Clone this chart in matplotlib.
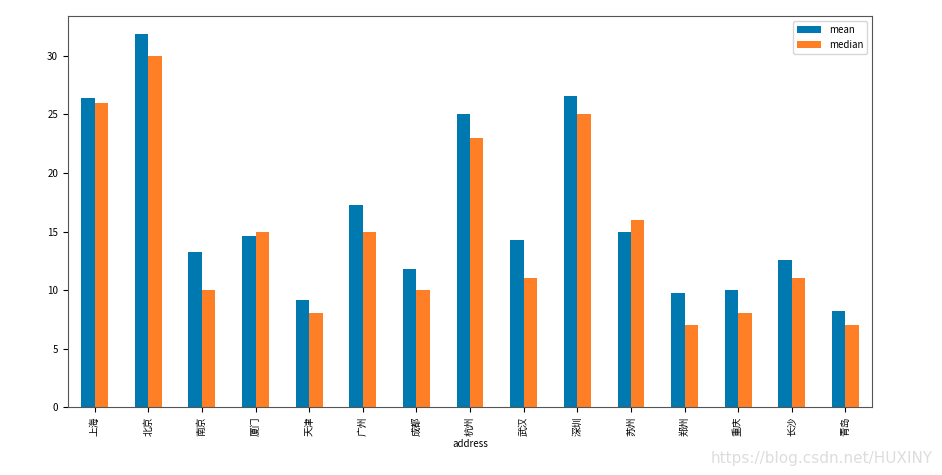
import matplotlib
matplotlib.use("Agg")
import matplotlib.pyplot as plt
import numpy as np

plt.rcParams['font.family'] = ['Noto Sans CJK SC', 'DejaVu Sans']

cities = ['上海', '北京', '南京', '厦门', '天津', '广州', '成都', '杭州',
          '武汉', '深圳', '苏州', '郑州', '重庆', '长沙', '青岛']
mean = [26.4, 31.9, 13.25, 14.6, 9.15, 17.25, 11.8, 25.0,
        14.3, 26.6, 14.95, 9.75, 10.0, 12.55, 8.2]
median = [26, 30, 10, 15, 8, 15, 10, 23, 11, 25, 16, 7, 8, 11, 7]

fig = plt.figure(figsize=(9.42, 4.75), dpi=100)
ax = fig.add_axes([0.072, 0.143, 0.854, 0.823])
x = np.arange(len(cities))
w = 0.25
ax.bar(x - w/2, mean, w, color='#0078b0', label='mean')
ax.bar(x + w/2, median, w, color='#ff7f27', label='median')
ax.set_xlim(-0.5, len(cities) - 0.5)
ax.set_ylim(0, 33.4)
ax.set_xticks(x)
ax.set_xticklabels(cities, rotation=90, fontsize=7)
ax.set_yticks([0, 5, 10, 15, 20, 25, 30])
ax.tick_params(axis='y', labelsize=7)
ax.set_xlabel('address', fontsize=7, labelpad=2)
for s in ax.spines.values():
    s.set_color('#555555')
ax.legend(fontsize=7, loc='upper right', handlelength=2.5)
fig.text(0.99, 0.02, 'https://blog.csdn.net/HUXINY', ha='right', va='bottom',
         fontsize=11, color='#dddddd', family='DejaVu Sans')
fig.savefig('out.png', dpi=100)
